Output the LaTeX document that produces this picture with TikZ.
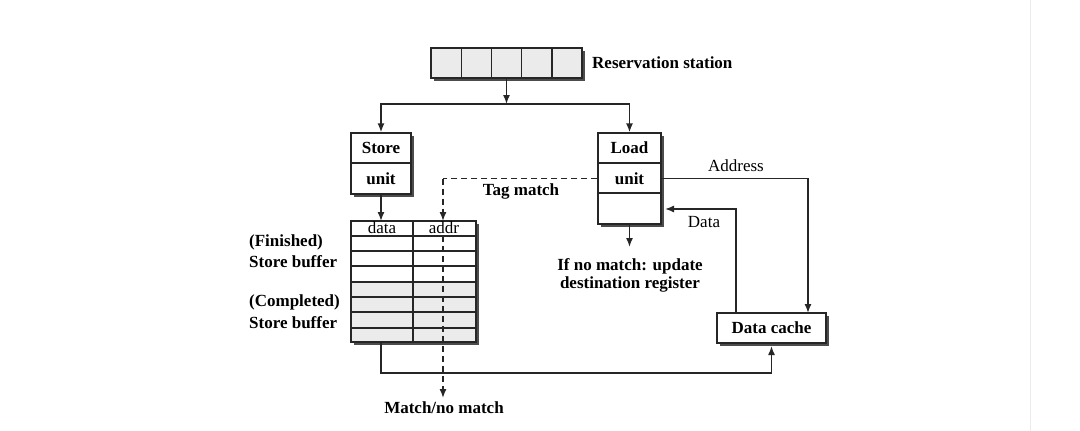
\documentclass[tikz,border=0pt]{standalone}
\usepackage{fontspec}
\setmainfont{Liberation Serif}
\usetikzlibrary{arrows.meta,shadows}
\begin{document}
\begin{tikzpicture}[x=1pt,y=-1pt,
  every node/.style={font=\fontsize{17}{20}\selectfont, inner sep=0pt},
  lbl/.style={font=\fontsize{17}{20}\selectfont\bfseries},
  plain/.style={font=\fontsize{17}{20}\selectfont},
  ln/.style={line width=1.4pt, draw=black!85},
  tip/.style={-{Latex[length=9pt,width=7pt]}},
  arr/.style={ln, tip},
  dsh/.style={ln, dash pattern=on 6pt off 4pt},
  shbox/.style={draw=black!85, line width=1.4pt, fill=white,
     general shadow={fill=black!70, shadow xshift=3pt, shadow yshift=-3pt}},
]
\useasboundingbox (0,0) rectangle (1080,431);
\draw[black!8, line width=1pt] (1030,0) -- (1030,431);

% Reservation station
\node[shbox, fill=black!8, minimum width=151pt, minimum height=30pt] (rs) at (506.5,63) {};
\foreach \i in {1,2,3,4} \draw[ln] (431+30.2*\i,48) -- (431+30.2*\i,78);
\node[lbl, anchor=west] (rslbl) at (592,63) {Reservation station};

% Store unit
\node[shbox, minimum width=60pt, minimum height=61pt] (store) at (381,163.5) {};
\draw[ln] (351,163) -- (411,163);
\node[lbl] (storeA) at (381,148) {Store};
\node[lbl] (storeB) at (381,179) {unit};

% Load unit
\node[shbox, minimum width=63pt, minimum height=91pt] (load) at (629.5,178.5) {};
\draw[ln] (598,163) -- (661,163);
\draw[ln] (598,193) -- (661,193);
\node[lbl] (loadA) at (629.5,148) {Load};
\node[lbl] (loadB) at (629.5,179) {unit};

% Store buffer
\node[shbox, minimum width=125pt, minimum height=121pt] (buf) at (413.5,281.5) {};
\fill[black!8] (351,282) rectangle (476,342);
\draw[ln] (351,221) rectangle (476,342);
\foreach \yy in {236,251,266,282,297,312,328} \draw[ln] (351,\yy) -- (476,\yy);
\draw[ln] (413,221) -- (413,342);
\node[plain] (hdata) at (382,228) {data};
\node[plain] (haddr) at (444,228) {addr};
\node[lbl, anchor=west] (fin1) at (249,242) {(Finished)};
\node[lbl, anchor=west] (fin2) at (249,262) {Store buffer};
\node[lbl, anchor=west] (com1) at (249,302) {(Completed)};
\node[lbl, anchor=west] (com2) at (249,323) {Store buffer};

% Data cache
\node[shbox, minimum width=109pt, minimum height=30pt] (cache) at (771.5,328) {};
\node[lbl] (cachelbl) at (771.5,328) {Data cache};

% coordinates
\coordinate (split) at (506.5,104);
\coordinate (tagTurn) at (443,178.5);
\coordinate (tagIn) at (443,221);
\coordinate (matchStart) at (443,236);
\coordinate (matchEnd) at (443,398);
\coordinate (nomatchEnd) at (629.5,247);
\coordinate (addrIn) at (808,313);
\coordinate (dataOut) at (736,313);
\coordinate (dataIn) at (665,209);
\coordinate (bufOut) at (381,342);
\coordinate (cacheIn) at (771.5,346);
\coordinate (storeIn) at (381,221);

% connectors
\draw[arr] (rs.south) -- (split);
\draw[arr] (split) -| (store.north);
\draw[arr] (split) -| (load.north);
\draw[arr] (store.south) -- (storeIn);
\draw[dsh] (load.west) -- (tagTurn);
\draw[dsh, tip] (tagTurn) -- (tagIn);
\draw[dsh, tip] (matchStart) -- (matchEnd);
\draw[arr] (load.south) -- (nomatchEnd);
\draw[arr] (load.east) -| (addrIn);
\draw[arr] (dataOut) |- (dataIn);
\draw[arr] (bufOut) -- (381,373) -| (cacheIn);

% labels
\node[lbl] (tag) at (521,191) {Tag match};
\node[plain] (addrlbl) at (736,166) {Address};
\node[plain] (datalbl) at (704,222) {Data};
\node[lbl] (nm1) at (630,266) {If no match: update};
\node[lbl] (nm2) at (630,284) {destination register};
\node[lbl] (mnm) at (444,408) {Match/no match};
\end{tikzpicture}
\end{document}
